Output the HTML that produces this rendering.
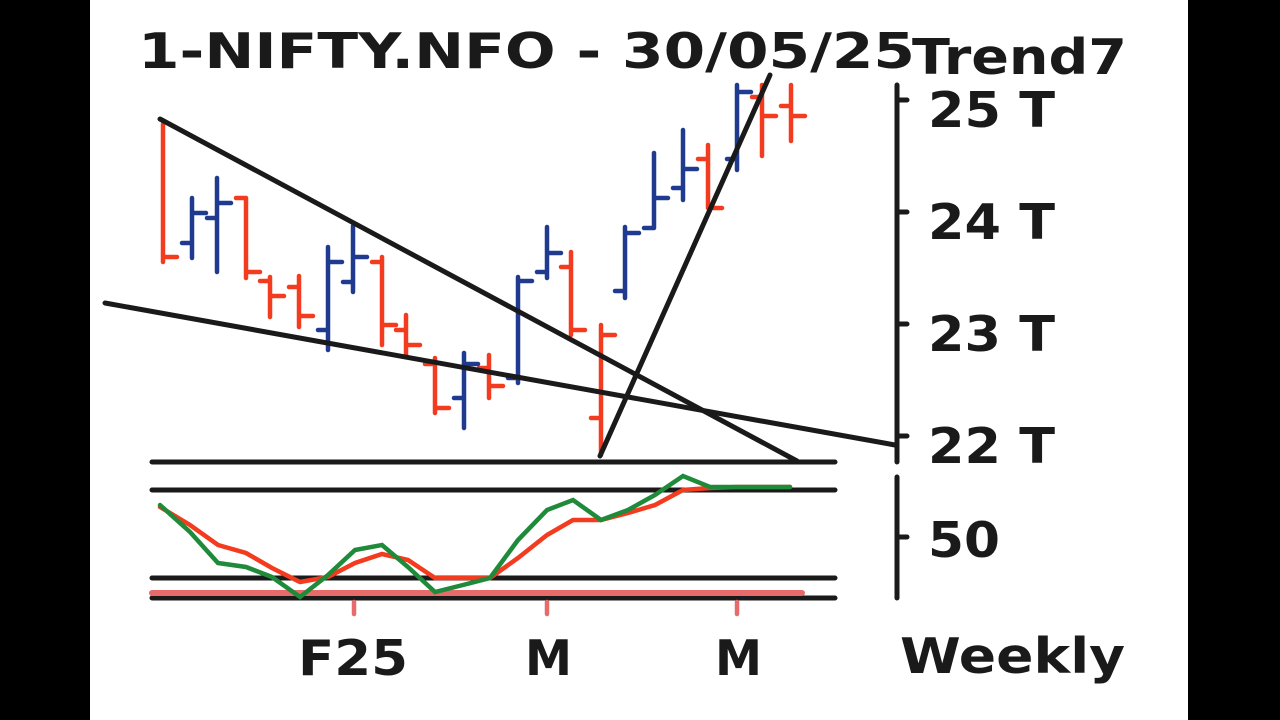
<!DOCTYPE html>
<html><head><meta charset="utf-8"><style>
html,body{margin:0;padding:0;width:1280px;height:720px;overflow:hidden;background:#fff}
svg{display:block}
text{font-family:"DejaVu Sans","Liberation Sans",sans-serif;font-weight:bold;fill:#1a1a1a}
</style></head><body>
<svg width="1280" height="720" viewBox="0 0 1280 720">
<rect x="0" y="0" width="1280" height="720" fill="#fff"/>
<rect x="0" y="0" width="90" height="720" fill="#000"/>
<rect x="1188" y="0" width="92" height="720" fill="#000"/>
<text x="138" y="68" font-size="49" textLength="777" lengthAdjust="spacingAndGlyphs">1-NIFTY.NFO - 30/05/25</text>
<text x="912" y="74" font-size="49" textLength="215" lengthAdjust="spacingAndGlyphs">Trend7</text>
<g stroke-linecap="round" stroke-width="4.5" fill="none">
<g stroke="#f23b1f">
<path d="M163 124V262M163 124h0M163 257h14"/>
<path d="M246 198V278M236 198h10M246 272h14"/>
<path d="M270 277V317M260 281h10M270 296h14"/>
<path d="M299 276V327M289 287h10M299 316h14"/>
<path d="M382 257V345M372 262h10M382 325h14"/>
<path d="M406 315V356M396 330h10M406 345h14"/>
<path d="M435 358V413M425 364h10M435 408h14"/>
<path d="M489 355V398M479 368h10M489 386h14"/>
<path d="M571 252V335M561 267h10M571 330h14"/>
<path d="M601 325V455M591 418h10M601 335h14"/>
<path d="M708 145V208M698 159h10M708 208h14"/>
<path d="M762 85V156M752 97h10M762 116h14"/>
<path d="M791 85V141M781 106h10M791 116h14"/>
</g>
<g stroke="#1f3a8f">
<path d="M192 198V258M182 243h10M192 213h14"/>
<path d="M217 178V272M207 218h10M217 203h14"/>
<path d="M328 247V350M318 330h10M328 262h14"/>
<path d="M353 226V292M343 282h10M353 257h14"/>
<path d="M464 353V428M454 398h10M464 364h14"/>
<path d="M518 277V383M508 378h10M518 281h14"/>
<path d="M547 227V278M537 272h10M547 253h14"/>
<path d="M625 227V298M615 291h10M625 233h14"/>
<path d="M654 153V228M644 228h10M654 198h14"/>
<path d="M683 130V200M673 188h10M683 169h14"/>
<path d="M737 85V170M727 159h10M737 92h14"/>
</g>
<g stroke="#1a1a1a" stroke-width="5">
<path d="M160 119L797 461"/>
<path d="M105 303L895 445"/>
<path d="M600 456L770 75"/>
<path d="M152 462H835M152 490H835M152 578H835M152 598H835"/>
<path d="M897 85V462M897 100h10M897 212h10M897 324h10M897 436h10"/>
<path d="M897 477V598M897 537h10"/>
</g>
<path d="M152 593H802" stroke="#e86b6b" stroke-width="6"/>
<g stroke="#e86b6b"><path d="M354 602V614M547 602V614M737 602V614"/></g>
<polyline stroke="#f23b1f" points="160,507 190,525 218,545 246,553 272,568 300,582 328,577 355,563 382,554 408,560 435,578 463,578 490,578 518,558 547,535 573,520 601,520 628,513 655,505 683,490 710,488 737,487 790,487"/>
<polyline stroke="#1e8a3a" points="160,505 190,532 218,563 246,567 272,577 300,597 328,575 355,550 382,545 408,567 435,592 463,585 490,578 518,540 547,510 573,500 601,520 628,510 655,495 683,476 710,487 737,487 790,487"/>
</g>
<text x="928" y="127" font-size="49" textLength="127" lengthAdjust="spacingAndGlyphs">25 T</text>
<text x="928" y="239" font-size="49" textLength="127" lengthAdjust="spacingAndGlyphs">24 T</text>
<text x="928" y="351" font-size="49" textLength="127" lengthAdjust="spacingAndGlyphs">23 T</text>
<text x="928" y="463" font-size="49" textLength="127" lengthAdjust="spacingAndGlyphs">22 T</text>
<text x="928" y="557" font-size="49" textLength="72" lengthAdjust="spacingAndGlyphs">50</text>
<text x="298" y="675" font-size="49" textLength="110" lengthAdjust="spacingAndGlyphs">F25</text>
<text x="525" y="675" font-size="49" textLength="47" lengthAdjust="spacingAndGlyphs">M</text>
<text x="715" y="675" font-size="49" textLength="47" lengthAdjust="spacingAndGlyphs">M</text>
<text x="900" y="673" font-size="49" textLength="225" lengthAdjust="spacingAndGlyphs">Weekly</text>
</svg>
</body></html>
